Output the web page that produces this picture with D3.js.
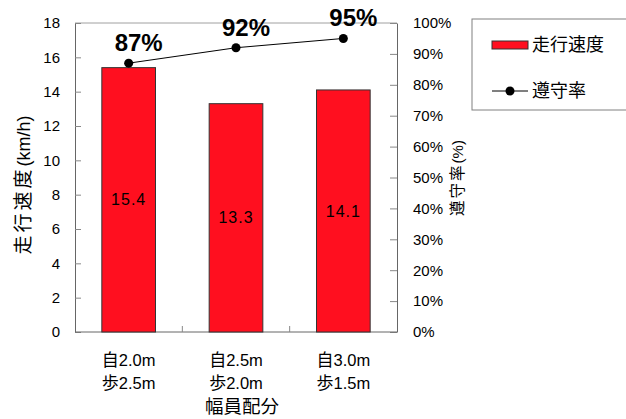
<!DOCTYPE html>
<html>
<head>
<meta charset="utf-8">
<script src="https://cdn.jsdelivr.net/npm/d3@7"></script>
<style>
  html, body { margin: 0; padding: 0; background: #fff; }
  svg { display: block; font-family: "Liberation Sans", Arial, "Noto Sans CJK JP", sans-serif; }
</style>
</head>
<body>
<svg id="chart" width="626" height="419"></svg>
<script>
// Lane width allocations (bicycle / pedestrian)
const categories = [["自2.0m", "歩2.5m"], ["自2.5m", "歩2.0m"], ["自3.0m", "歩1.5m"]];
const speeds = [15.4, 13.3, 14.1];          // 走行速度 (km/h)
const compliance = [0.87, 0.92, 0.95];      // 遵守率
const speedTicks = [0, 2, 4, 6, 8, 10, 12, 14, 16, 18];
const rateTicks = [0, 0.1, 0.2, 0.3, 0.4, 0.5, 0.6, 0.7, 0.8, 0.9, 1.0];

const CJK_FONT = "'Noto Sans CJK JP', sans-serif";
const LATIN_FONT = "'Liberation Sans', Arial, sans-serif";

// write a string as runs: CJK characters in the CJK font, the rest in the Latin font
function mixedText(sel, str, latinSize, cjkSize, cjkSpacing = 0) {
  const runs = str.match(/[\u3000-\u9fff\uff00-\uffef]+|[^\u3000-\u9fff\uff00-\uffef]+/g) || [];
  runs.forEach(r => {
    const isCjk = /[\u3000-\u9fff\uff00-\uffef]/.test(r);
    sel.append("tspan")
      .attr("font-family", isCjk ? CJK_FONT : LATIN_FONT)
      .attr("font-size", isCjk ? cjkSize : latinSize)
      .attr("letter-spacing", isCjk ? cjkSpacing : 0)
      .text(r);
  });
}

const svg = d3.select("#chart");
const m = { left: 75, right: 397, top: 23, bottom: 332 };

const x = d3.scaleBand().domain(d3.range(categories.length))
  .range([m.left, m.right]).paddingInner(0.5).paddingOuter(0.25);
const xBand = d3.scaleBand().domain(d3.range(categories.length))
  .range([m.left, m.right]);
const yL = d3.scaleLinear().domain([0, 18]).range([m.bottom, m.top]);
const yR = d3.scaleLinear().domain([0, 1]).range([m.bottom, m.top]);

// plot frame top edge
svg.append("line").attr("x1", m.left).attr("x2", m.right)
  .attr("y1", m.top).attr("y2", m.top).attr("stroke", "#a0a0a0").attr("stroke-width", 1);

// left axis
const gL = svg.append("g").attr("transform", `translate(${m.left},0)`)
  .call(d3.axisLeft(yL).tickValues(speedTicks).tickSize(-6).tickPadding(15).tickSizeOuter(0));
gL.select(".domain").attr("stroke", "#666");
gL.selectAll(".tick line").attr("stroke", "#888");
gL.selectAll("text").attr("font-size", 15).attr("fill", "#000");

// right axis
const gR = svg.append("g").attr("transform", `translate(${m.right},0)`)
  .call(d3.axisRight(yR).tickValues(rateTicks).tickFormat(d3.format(".0%"))
    .tickSize(-7).tickPadding(16).tickSizeOuter(0));
gR.select(".domain").attr("stroke", "#666");
gR.selectAll(".tick line").attr("stroke", "#888");
gR.selectAll("text").attr("font-size", 15).attr("fill", "#000");

// bottom axis with separators between categories
svg.append("line").attr("x1", m.left).attr("x2", m.right)
  .attr("y1", m.bottom).attr("y2", m.bottom).attr("stroke", "#666");
svg.selectAll(".sep").data(d3.range(1, categories.length)).join("line")
  .attr("x1", d => xBand(d)).attr("x2", d => xBand(d))
  .attr("y1", m.bottom).attr("y2", m.bottom - 6).attr("stroke", "#888");

// bars
svg.selectAll(".bar").data(speeds).join("rect")
  .attr("x", (d, i) => x(i)).attr("width", x.bandwidth())
  .attr("y", d => yL(d)).attr("height", d => yL(0) - yL(d))
  .attr("fill", "#ff0f1f").attr("stroke", "#333").attr("stroke-width", 1);

// bar value labels
svg.selectAll(".barlab").data(speeds).join("text")
  .attr("x", (d, i) => x(i) + x.bandwidth() / 2)
  .attr("y", d => (yL(d) + yL(0)) / 2)
  .attr("dy", "0.35em").attr("text-anchor", "middle")
  .attr("font-size", 16).attr("letter-spacing", 1).text(d => d.toFixed(1));

// compliance line
const cx = i => xBand(i) + xBand.bandwidth() / 2;
svg.append("path").datum(compliance)
  .attr("d", d3.line().x((d, i) => cx(i)).y(d => yR(d)))
  .attr("fill", "none").attr("stroke", "#000").attr("stroke-width", 1);
svg.selectAll(".pt").data(compliance).join("circle")
  .attr("cx", (d, i) => cx(i)).attr("cy", d => yR(d)).attr("r", 4.5).attr("fill", "#000");
svg.selectAll(".ptlab").data(compliance).join("text")
  .attr("x", (d, i) => cx(i) + 10).attr("y", d => yR(d) - 12)
  .attr("text-anchor", "middle").attr("font-size", 24).attr("font-weight", "bold")
  .text(d => d3.format(".0%")(d));

// category labels (two lines each)
svg.selectAll(".cat").data(categories).join("g").each(function (d, i) {
  const g = d3.select(this);
  d.forEach((line, k) => {
    const t = g.append("text").attr("x", cx(i)).attr("y", 366 + k * 23)
      .attr("text-anchor", "middle");
    mixedText(t, line, 16.5, 17);
  });
});

// axis titles
const xt = svg.append("text").attr("x", 242).attr("y", 413).attr("text-anchor", "middle");
mixedText(xt, "幅員配分", 16, 18.5);
const ylt = svg.append("text").attr("transform", "translate(30,185) rotate(-90)")
  .attr("text-anchor", "middle");
mixedText(ylt, "走行速度(km/h)", 18, 19, 3);
const yrt = svg.append("text").attr("transform", "translate(463,178) rotate(-90)")
  .attr("text-anchor", "middle");
mixedText(yrt, "遵守率(%)", 15, 15.5, 2);

// legend
const lg = svg.append("g");
lg.append("rect").attr("x", 472).attr("y", 19).attr("width", 170).attr("height", 91)
  .attr("fill", "#fff").attr("stroke", "#808080");
lg.append("rect").attr("x", 492).attr("y", 41).attr("width", 36).attr("height", 8)
  .attr("fill", "#ff0f1f").attr("stroke", "#333");
const l1 = lg.append("text").attr("x", 532).attr("y", 45).attr("dy", "0.35em");
mixedText(l1, "走行速度", 18, 18);
lg.append("line").attr("x1", 492).attr("x2", 528).attr("y1", 91).attr("y2", 91)
  .attr("stroke", "#000");
lg.append("circle").attr("cx", 510).attr("cy", 91).attr("r", 4.5).attr("fill", "#000");
const l2 = lg.append("text").attr("x", 532).attr("y", 91).attr("dy", "0.35em");
mixedText(l2, "遵守率", 18, 18);
</script>
</body>
</html>
